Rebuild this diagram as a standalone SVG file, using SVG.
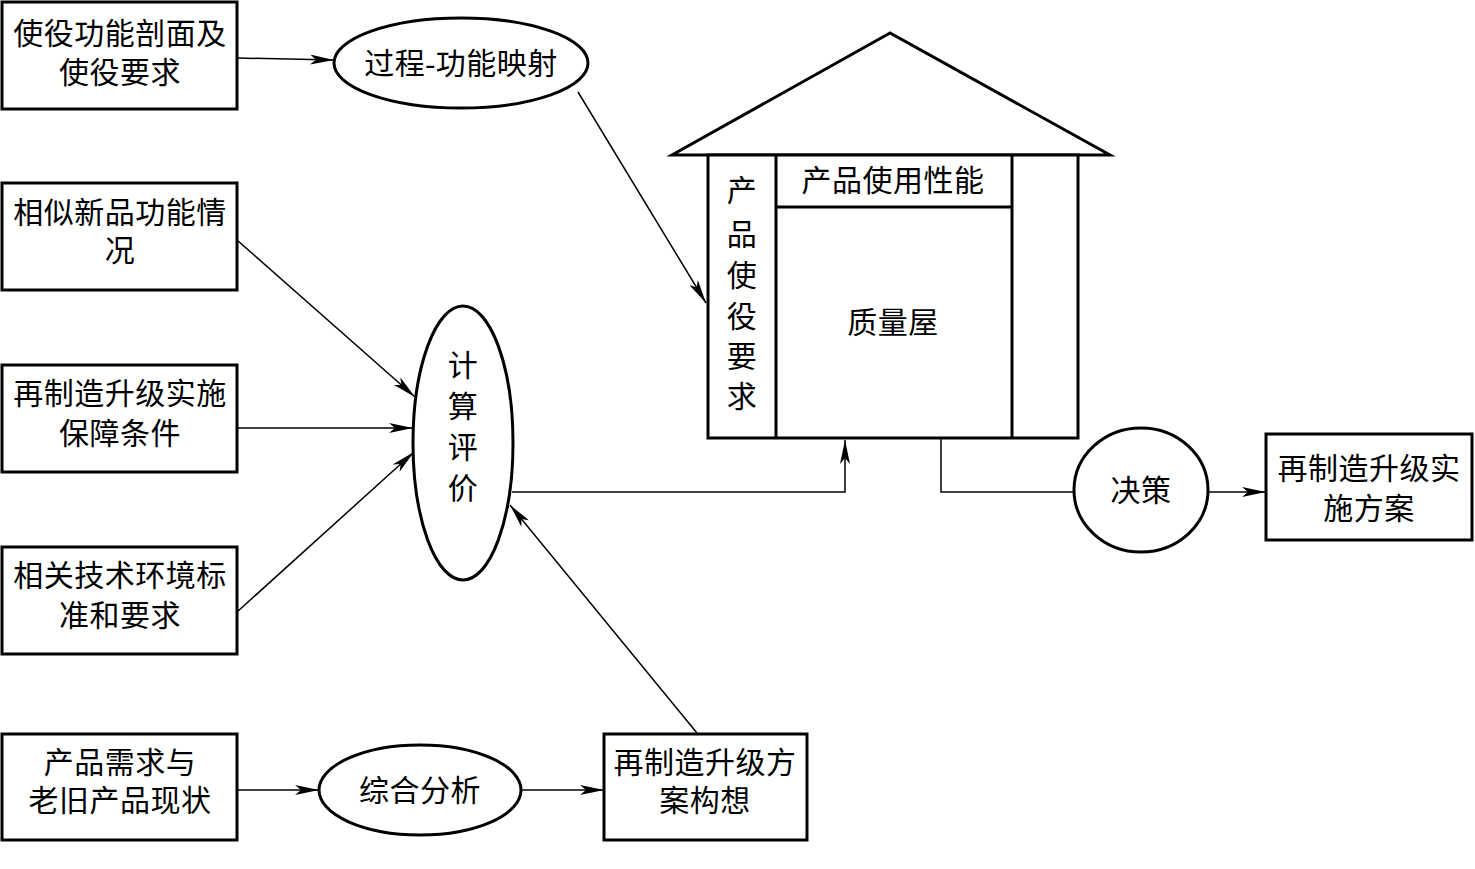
<svg xmlns="http://www.w3.org/2000/svg" width="1475" height="869" viewBox="0 0 1475 869">
<style>
.b{fill:#fff;stroke:#000;stroke-width:3}
.l{fill:none;stroke:#000;stroke-width:3}
.c{fill:none;stroke:#000;stroke-width:1.5}
text{font-family:"Liberation Serif","Noto Sans CJK SC",serif;font-size:30px;letter-spacing:0.5px;fill:#000;text-anchor:middle;dominant-baseline:central}
</style>
<defs>
<marker id="a" viewBox="0 0 24 10" refX="24" refY="5" markerWidth="24" markerHeight="10" markerUnits="userSpaceOnUse" orient="auto">
<path d="M0,0 L24,5 L0,10 L6,5 Z" fill="#000"/>
</marker>
</defs>
<rect width="1475" height="869" fill="#fff"/>
<g id="connectors">
<line class="c" x1="237" y1="58" x2="334" y2="60" marker-end="url(#a)"/>
<line class="c" x1="578" y1="92" x2="706" y2="303" marker-end="url(#a)"/>
<line class="c" x1="237" y1="240" x2="415" y2="397" marker-end="url(#a)"/>
<line class="c" x1="237" y1="428" x2="413" y2="428" marker-end="url(#a)"/>
<line class="c" x1="237" y1="612" x2="414" y2="452" marker-end="url(#a)"/>
<polyline class="c" points="512,492 845,492 845,440" marker-end="url(#a)"/>
<polyline class="c" points="941,438 941,492 1074,492"/>
<line class="c" x1="1208" y1="492" x2="1266" y2="492" marker-end="url(#a)"/>
<line class="c" x1="237" y1="790" x2="319" y2="790" marker-end="url(#a)"/>
<line class="c" x1="521" y1="790" x2="604" y2="790" marker-end="url(#a)"/>
<line class="c" x1="697" y1="733" x2="510" y2="505" marker-end="url(#a)"/>
</g>
<g id="n1"><rect class="b" x="2" y="2" width="235" height="107"/><text x="120" y="33">使役功能剖面及</text><text x="120" y="72">使役要求</text></g>
<g id="n2"><ellipse class="b" cx="461" cy="63" rx="127" ry="45"/><text x="461" y="63">过程-功能映射</text></g>
<g id="house">
<polygon class="l" points="890,33 672,155 1110,155"/>
<rect class="b" x="708" y="155" width="370" height="283"/>
<line class="l" x1="776" y1="155" x2="776" y2="438"/>
<line class="l" x1="1012" y1="155" x2="1012" y2="438"/>
<line class="l" x1="776" y1="207" x2="1012" y2="207"/>
<text x="893" y="180">产品使用性能</text>
<text x="893" y="322">质量屋</text>
<text x="742" y="190">产</text><text x="742" y="234">品</text><text x="742" y="275">使</text><text x="742" y="316">役</text><text x="742" y="356">要</text><text x="742" y="396">求</text>
</g>
<g id="n3"><rect class="b" x="2" y="183" width="235" height="107"/><text x="120" y="212">相似新品功能情</text><text x="120" y="250">况</text></g>
<g id="n4"><rect class="b" x="2" y="365" width="235" height="107"/><text x="120" y="393">再制造升级实施</text><text x="120" y="433">保障条件</text></g>
<g id="n5"><rect class="b" x="2" y="547" width="235" height="107"/><text x="120" y="575">相关技术环境标</text><text x="120" y="615">准和要求</text></g>
<g id="n6"><ellipse class="b" cx="463" cy="443" rx="50" ry="137"/><text x="463" y="365">计</text><text x="463" y="406">算</text><text x="463" y="447">评</text><text x="463" y="488">价</text></g>
<g id="n7"><ellipse class="b" cx="1141" cy="490" rx="67" ry="62"/><text x="1141" y="490">决策</text></g>
<g id="n8"><rect class="b" x="1266" y="434" width="206" height="106"/><text x="1369" y="468">再制造升级实</text><text x="1369" y="508">施方案</text></g>
<g id="n9"><rect class="b" x="2" y="734" width="235" height="106"/><text x="120" y="762">产品需求与</text><text x="120" y="800">老旧产品现状</text></g>
<g id="n10"><ellipse class="b" cx="420" cy="790" rx="101" ry="45"/><text x="420" y="790">综合分析</text></g>
<g id="n11"><rect class="b" x="604" y="734" width="203" height="106"/><text x="705" y="762">再制造升级方</text><text x="705" y="800">案构想</text></g>
</svg>
